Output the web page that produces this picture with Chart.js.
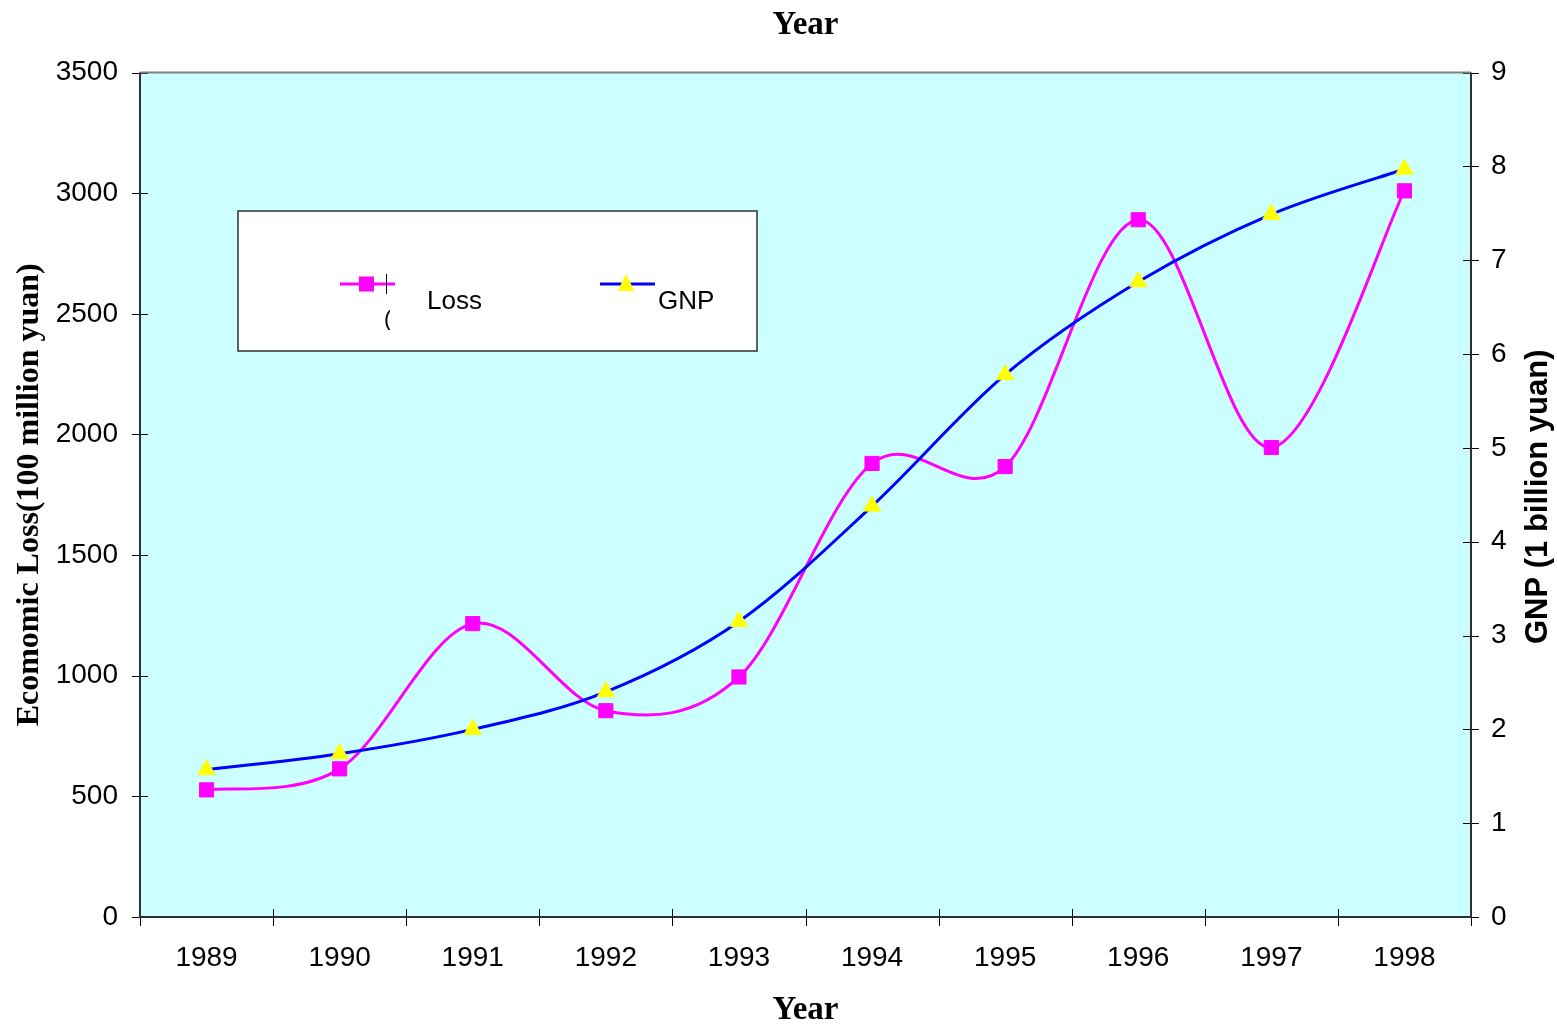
<!DOCTYPE html>
<html>
<head>
<meta charset="utf-8">
<script src="https://cdn.jsdelivr.net/npm/chart.js@4/dist/chart.umd.min.js"></script>
<style>
html,body{margin:0;padding:0;background:#ffffff;}
#wrap{width:1557px;height:1024px;}
</style>
</head>
<body>
<div id="wrap"><canvas id="c" width="1557" height="1024"></canvas></div>
<script>
const years = ['1989','1990','1991','1992','1993','1994','1995','1996','1997','1998'];
const lossValues = [527, 614, 1216, 855, 995, 1880, 1867, 2890, 1946, 3010];
const gnpValues = [1.57, 1.74, 2.0, 2.4, 3.15, 4.38, 5.78, 6.77, 7.49, 7.97];
const lossTicks = [0, 500, 1000, 1500, 2000, 2500, 3000, 3500];
const gnpTicks = [0, 1, 2, 3, 4, 5, 6, 7, 8, 9];
const seriesNames = ['Loss', 'GNP'];
const topTitle = 'Year';
const xTitle = 'Year';
const leftTitle = 'Ecomomic Loss(100 million yuan)';
const rightTitle = 'GNP (1 billion yuan)';

const SANS = "'Liberation Sans', Arial, sans-serif";
const SERIF = "'Liberation Serif', 'Times New Roman', serif";

// Excel-like smoothing (uniform Catmull-Rom) applied on the library's own point positions
const smoothPlugin = {
  id: 'smoothPlugin',
  beforeDatasetsDraw(chart) {
    chart.data.datasets.forEach((ds, i) => {
      const meta = chart.getDatasetMeta(i);
      const pts = meta.data;
      const n = pts.length;
      for (let k = 0; k < n; k++) {
        const p = pts[k];
        const prev = pts[Math.max(k - 1, 0)];
        const next = pts[Math.min(k + 1, n - 1)];
        const dx = (next.x - prev.x) / 6;
        const dy = (next.y - prev.y) / 6;
        p.cp1x = p.x - dx; p.cp1y = p.y - dy;
        p.cp2x = p.x + dx; p.cp2y = p.y + dy;
      }
      if (meta.dataset) {
        meta.dataset._pointsUpdated = true;
        meta.dataset._path = undefined;
      }
    });
  }
};

const framePlugin = {
  id: 'framePlugin',
  beforeDatasetsDraw(chart) {
    const {ctx, chartArea: a, scales} = chart;
    ctx.save();
    ctx.fillStyle = '#CCFFFF';
    ctx.fillRect(a.left, a.top, a.right - a.left, a.bottom - a.top);

    ctx.strokeStyle = '#000000';
    ctx.lineWidth = 1;
    ctx.beginPath();
    lossTicks.forEach(v => {
      const y = Math.round(scales.y.getPixelForValue(v)) + 0.5;
      ctx.moveTo(a.left - 8, y); ctx.lineTo(a.left + 8, y);
    });
    gnpTicks.forEach(v => {
      const y = Math.round(scales.y1.getPixelForValue(v)) + 0.5;
      ctx.moveTo(a.right - 8, y); ctx.lineTo(a.right + 8, y);
    });
    for (let i = 0; i <= years.length; i++) {
      const x = Math.round(scales.x.getPixelForValue(i - 0.5)) + 0.5;
      ctx.moveTo(x, a.bottom - 8); ctx.lineTo(x, a.bottom + 9);
    }
    ctx.stroke();

    ctx.lineWidth = 2;
    ctx.strokeStyle = '#808080';
    ctx.beginPath();
    ctx.moveTo(a.left, a.top); ctx.lineTo(a.right, a.top);
    ctx.stroke();
    ctx.strokeStyle = '#303030';
    ctx.beginPath();
    ctx.moveTo(a.left, a.top); ctx.lineTo(a.left, a.bottom); ctx.lineTo(a.right, a.bottom); ctx.lineTo(a.right, a.top);
    ctx.stroke();
    ctx.restore();
  },
  afterDraw(chart) {
    const {ctx, chartArea: a} = chart;
    ctx.save();
    // right axis title, reading bottom to top
    ctx.translate(1538, (a.top + a.bottom) / 2 + 2);
    ctx.rotate(-Math.PI / 2);
    ctx.font = "bold 31px " + SANS;
    ctx.fillStyle = '#000';
    ctx.textAlign = 'center';
    ctx.textBaseline = 'middle';
    ctx.fillText(rightTitle, 0, 0);
    ctx.restore();

    // legend box
    ctx.save();
    ctx.fillStyle = '#ffffff';
    ctx.fillRect(238, 211, 519, 140);
    ctx.strokeStyle = '#303030';
    ctx.lineWidth = 1.5;
    ctx.strokeRect(238, 211, 519, 140);

    const ly = 284;
    // Loss sample
    ctx.strokeStyle = '#FF00FF';
    ctx.lineWidth = 3;
    ctx.beginPath(); ctx.moveTo(340, ly); ctx.lineTo(395, ly); ctx.stroke();
    ctx.fillStyle = '#FF00FF';
    ctx.fillRect(359, ly - 7.5, 15, 15);
    ctx.strokeStyle = '#000';
    ctx.lineWidth = 1;
    ctx.beginPath(); ctx.moveTo(386.5, ly - 10); ctx.lineTo(386.5, ly + 10); ctx.stroke();
    // GNP sample
    ctx.strokeStyle = '#0000FF';
    ctx.lineWidth = 3;
    ctx.beginPath(); ctx.moveTo(600, ly); ctx.lineTo(655, ly); ctx.stroke();
    ctx.fillStyle = '#FFFF00';
    ctx.beginPath(); ctx.moveTo(626, ly - 10); ctx.lineTo(634.5, ly + 7); ctx.lineTo(617.5, ly + 7); ctx.closePath(); ctx.fill();

    ctx.fillStyle = '#000';
    ctx.font = "26px " + SANS;
    ctx.textAlign = 'left';
    ctx.textBaseline = 'middle';
    ctx.fillText(seriesNames[0], 427, 302);
    ctx.fillText(seriesNames[1], 658, 302);
    // clipped glyph fragment
    ctx.save();
    ctx.beginPath(); ctx.rect(384, 308, 6, 22); ctx.clip();
    ctx.font = "22px " + SANS;
    ctx.fillText('(', 384, 320);
    ctx.restore();
    ctx.restore();
  }
};

new Chart(document.getElementById('c'), {
  type: 'line',
  data: {
    labels: years,
    datasets: [
      {
        label: seriesNames[0],
        data: lossValues,
        yAxisID: 'y',
        borderColor: '#FF00FF',
        borderWidth: 3,
        tension: 0.3,
        fill: false,
        pointStyle: 'rect',
        pointRadius: 10,
        pointBackgroundColor: '#FF00FF',
        pointBorderColor: '#FF00FF',
        pointBorderWidth: 1,
        order: 2
      },
      {
        label: seriesNames[1],
        data: gnpValues,
        yAxisID: 'y1',
        borderColor: '#0000FF',
        borderWidth: 3,
        tension: 0.3,
        fill: false,
        pointStyle: 'triangle',
        pointRadius: 10,
        pointBackgroundColor: '#FFFF00',
        pointBorderColor: '#FFFF00',
        pointBorderWidth: 1,
        order: 1
      }
    ]
  },
  options: {
    responsive: false,
    animation: false,
    devicePixelRatio: 1,
    layout: { padding: 0 },
    plugins: {
      legend: { display: false },
      tooltip: { enabled: false },
      title: {
        display: true,
        text: topTitle,
        fullSize: false,
        color: '#000',
        font: { family: SERIF, size: 33, weight: 'bold', lineHeight: 1.2 },
        padding: { top: 6, bottom: 27 }
      }
    },
    scales: {
      x: {
        type: 'category',
        offset: true,
        grid: { display: false, drawTicks: false, offset: true },
        border: { display: false },
        ticks: { color: '#000', font: { family: SANS, size: 28 }, padding: 24, maxRotation: 0, autoSkip: false },
        title: {
          display: true,
          text: xTitle,
          color: '#000',
          font: { family: SERIF, size: 33, weight: 'bold', lineHeight: 0.8 },
          padding: { top: 0, bottom: 0 }
        },
        afterFit(s) { s.height = 107; }
      },
      y: {
        position: 'left',
        min: 0,
        max: 3500,
        afterBuildTicks(s) { s.ticks = lossTicks.map(v => ({ value: v })); },
        grid: { display: false, drawTicks: false },
        border: { display: false },
        ticks: { color: '#000', font: { family: SANS, size: 28 }, padding: 22, callback: v => String(v) },
        title: {
          display: true,
          text: leftTitle,
          color: '#000',
          font: { family: SERIF, size: 32, weight: 'bold', lineHeight: 1.2 },
          padding: { top: 11, bottom: 0 }
        },
        afterFit(s) { s.width = 140; }
      },
      y1: {
        position: 'right',
        min: 0,
        max: 9,
        afterBuildTicks(s) { s.ticks = gnpTicks.map(v => ({ value: v })); },
        grid: { display: false, drawTicks: false },
        border: { display: false },
        ticks: { color: '#000', font: { family: SANS, size: 28 }, padding: 20, callback: v => String(v) },
        afterFit(s) { s.width = 86; }
      }
    }
  },
  plugins: [framePlugin, smoothPlugin]
});
</script>
</body>
</html>
